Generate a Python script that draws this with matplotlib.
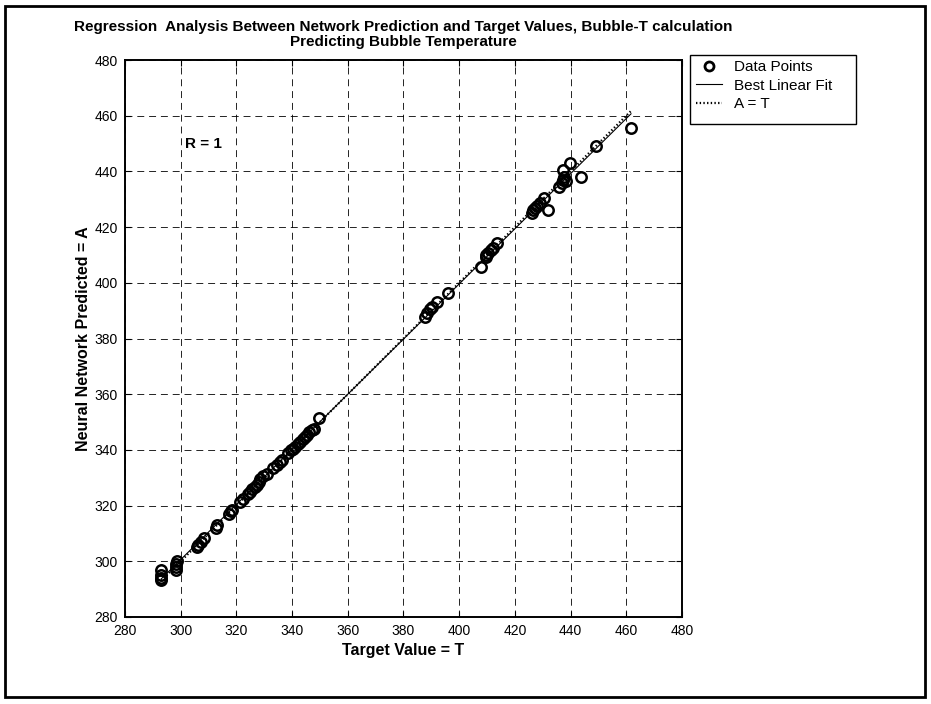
import os

os.environ.setdefault("MPLBACKEND", "Agg")
import matplotlib.pyplot as plt
import numpy as np
from matplotlib.lines import Line2D
from matplotlib.patches import Rectangle

plt.rcParams["font.family"] = ["Liberation Sans", "DejaVu Sans"]
plt.rcParams["lines.scale_dashes"] = False

# Target (T) and network output (A), bubble temperatures
target = [
    293.0, 293.0, 293.0, 293.0,
    298.2, 298.3, 298.4, 298.5,
    305.7, 306.2, 307.3, 308.5,
    312.5, 313.0,
    317.5, 318.0, 318.3,
    321.3, 322.5,
    324.0, 324.8, 325.5, 326.5, 327.5, 328.0, 328.5, 329.5, 331.0, 333.0, 334.5, 335.5, 336.5,
    338.5, 339.5, 340.5, 341.0, 342.0, 343.0, 343.8, 344.5, 345.5, 346.0, 347.0, 348.0, 349.8,
    387.7, 388.5, 389.5, 390.1, 391.9, 396.0,
    408.0, 409.5, 409.8, 410.5, 411.5, 412.3, 413.4,
    426.0, 426.5, 427.2, 428.0, 429.0, 430.3, 432.0,
    436.0, 436.8, 437.2, 437.5, 437.4, 438.5, 439.8, 443.6, 449.0, 461.7,
]
predicted = [
    293.3, 294.0, 295.0, 296.8,
    297.0, 298.0, 299.2, 300.0,
    305.0, 306.0, 307.0, 308.5,
    312.0, 313.0,
    317.0, 318.0, 318.5,
    321.4, 322.5,
    324.0, 325.0, 325.8, 326.5, 327.3, 328.5, 329.5, 330.5, 331.5, 333.5, 334.5, 335.5, 336.5,
    338.8, 339.8, 340.3, 341.2, 342.0, 343.0, 344.0, 344.8, 345.5, 346.3, 347.0, 347.5, 351.3,
    387.8, 389.0, 390.5, 391.4, 393.2, 396.2,
    405.6, 409.2, 410.0, 410.8, 411.7, 412.5, 414.2,
    425.0, 426.0, 426.8, 427.5, 428.5, 430.5, 426.0,
    434.5, 436.0, 437.0, 438.0, 440.5, 436.5, 443.1, 438.1, 449.2, 455.5,
]
ticks = list(range(280, 481, 20))
r_label = "R = 1"

t = np.array(target)
a = np.array(predicted)
slope, intercept = np.polyfit(t, a, 1)
span = np.array([min(t.min(), a.min()), max(t.max(), a.max())])

W, H = 931, 704
fig = plt.figure(figsize=(W / 100, H / 100), dpi=100)
ax = fig.add_axes([125 / W, 1 - 617 / H, 557 / W, 557 / H])

ax.plot(t, a, "o", mfc="none", mec="black", ms=7.5, mew=1.8, zorder=3)
ax.plot(span, slope * span + intercept, "-", color="black", lw=0.8, zorder=4)
ax.plot(span, span, ":", color="black", lw=1.6, zorder=4)

ax.set_xlim(280, 480)
ax.set_ylim(280, 480)
ax.set_xticks(ticks)
ax.set_yticks(ticks)
ax.tick_params(direction="in", length=4, width=0.8, top=True, right=True,
               labelsize=10, pad=5)
ax.grid(True, color="black", lw=0.6, dashes=(5, 3.5))
for s in ax.spines.values():
    s.set_linewidth(1.4)

ax.set_xlabel("Target Value = T", fontsize=11.5, fontweight="bold", labelpad=4)
ax.set_ylabel("Neural Network Predicted = A", fontsize=11.5, fontweight="bold", labelpad=3)
ax.set_title("Regression  Analysis Between Network Prediction and Target Values, Bubble-T calculation\n"
             "Predicting Bubble Temperature", fontsize=11, fontweight="bold", pad=10, linespacing=1.1)
ax.text(308, 450, r_label, fontsize=11, fontweight="bold", ha="center", va="center")

# legend entries drawn without a frame; the box is a separate rectangle
handles = [
    Line2D([], [], ls="none", marker="o", mfc="none", mec="black", ms=6.5, mew=2),
    Line2D([], [], ls="-", color="black", lw=0.8),
    Line2D([], [], ls=":", color="black", lw=1.6),
]
fig.legend(handles, ["Data Points", "Best Linear Fit", "A = T"],
           loc="upper left", bbox_to_anchor=(693 / W, 1 - 57 / H),
           fontsize=11, frameon=False, handlelength=1.7,
           handletextpad=0.8, borderpad=0.2, labelspacing=0.3, borderaxespad=0)
fig.add_artist(Rectangle((690 / W, 1 - 124 / H), 166 / W, 69 / H, transform=fig.transFigure,
                         fill=False, edgecolor="black", lw=1.0))

fig.add_artist(Rectangle((5 / W, 1 - 697 / H), 920 / W, 691 / H, transform=fig.transFigure,
                         fill=False, edgecolor="black", lw=2))

fig.savefig("out.png", dpi=100)
plt.close(fig)
